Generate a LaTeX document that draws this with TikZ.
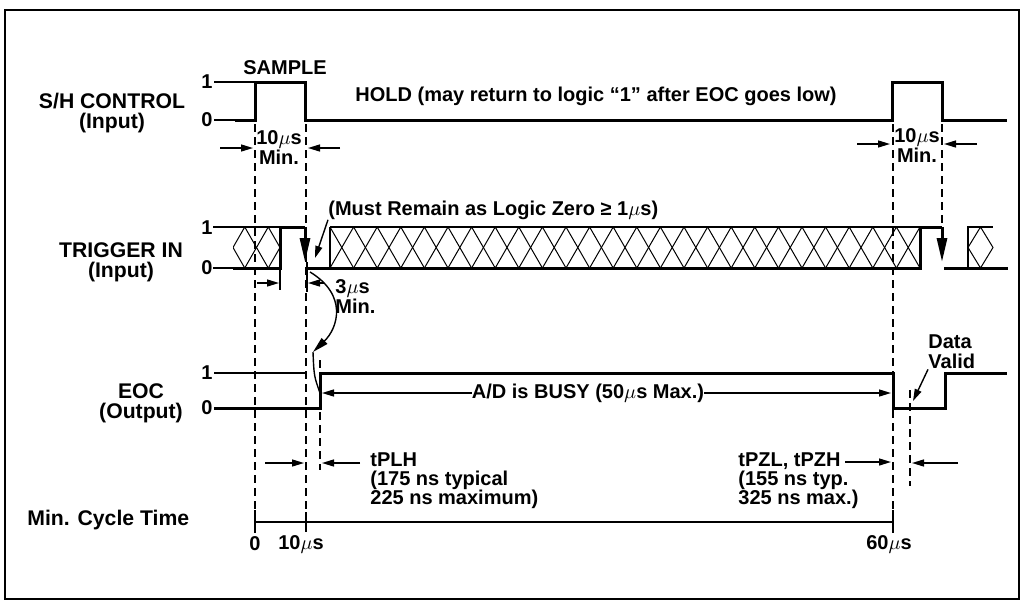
\documentclass[tikz,border=0pt]{standalone}
\usepackage{fontspec}
\setmainfont{Liberation Sans}
\usetikzlibrary{arrows.meta}

\tikzset{
  sig/.style={line width=1.5pt},
  lvl/.style={line width=0.7pt},
  hatch/.style={line width=0.5pt},
  guide/.style={line width=0.6pt, dash pattern=on 4pt off 2.5pt},
  dim/.style={line width=0.7pt, -{Triangle[length=6pt,width=3.5pt]}},
  drop/.style={sig, -{Triangle[length=12pt,width=5pt]}},
  lbl/.style={font=\fontsize{10}{10}\selectfont\bfseries, inner sep=0pt},
  note/.style={font=\fontsize{10}{9.5}\selectfont\bfseries, inner sep=0pt, align=left, anchor=west},
  signame/.style={font=\fontsize{10.6}{10}\selectfont\bfseries, inner sep=0pt, align=center},
}

\begin{document}
\begin{tikzpicture}[x=0.5pt, y=-0.5pt]
        \useasboundingbox (0,0) rectangle (1027,611);
        % Frame
            \draw[line width=0.8pt] (5,10) rectangle (1019,599);
        % Timing guides
            \draw[guide] (255,124) -- (255,512);
            \draw[guide] (306,124) -- (306,512);
            \draw[guide] (893,124) -- (893,512);
            \draw[guide] (942,124) -- (942,227);
            \draw[guide] (320,360) -- (320,470);
            \draw[guide] (910,390) -- (910,486);
        % S/H control
            \node[signame] (sh) at (112,113) {S/H CONTROL\\(Input)};
            \node[lbl] (sh1) at (207,82) {1};
            \node[lbl] (sh0) at (207,120) {0};
            \draw[lvl] (214,82) -- (255,82);
            \draw[lvl] (214,120) -- (235,120);
            \draw[sig] (235,120) -- (255,120) -- (255,82) -- (305,82) -- (305,120)
                -- (892,120) -- (892,82) -- (942,82) -- (942,120) -- (1007,120);
            \node[lbl] (sample) at (285,68) {SAMPLE};
            \node[lbl, anchor=west] (hold) at (355,96) {HOLD (may return to logic “1” after EOC goes low)};
            \node[lbl, align=center] (wa) at (279,148) {10$\mu$s\\Min.};
            \draw[dim] (220,148) -- (253,148);
            \draw[dim] (340,148) -- (308,148);
            \node[lbl, align=center] (wb) at (917,146) {10$\mu$s\\Min.};
            \draw[dim] (857,144) -- (890,144);
            \draw[dim] (977,144) -- (944,144);
        % Trigger in
            \node[signame] (trig) at (121,262) {TRIGGER IN\\(Input)};
            \node[lbl] (tr1) at (207,228) {1};
            \node[lbl] (tr0) at (207,268) {0};
            \draw[lvl] (213,227) -- (233,227);
            \draw[lvl] (213,268) -- (233,268);
            \begin{scope}
                \clip (233,227) rectangle (280,268);
                \foreach \x in {221.25,244.75,268.25,291.75}
                    \draw[hatch] (\x,227) -- ++(23.5,41) (\x,227) -- ++(-23.5,41);
            \end{scope}
            \begin{scope}
                \clip (330,227) rectangle (920,268);
                \foreach \k in {0,...,25}
                    \draw[hatch] ({330+23.6*\k},227) -- ++(23.6,41) ({330+23.6*\k},227) -- ++(-23.6,41);
            \end{scope}
            \draw[hatch] (980.5,227) -- (993,247.5) -- (980.5,268) -- (968,247.5) -- cycle;
            \draw[lvl] (233,227) -- (280,227);
            \draw[sig] (233,268) -- (280,268) -- (280,227) -- (305,227);
            \draw[drop] (305,227) -- (305,262);
            \draw[lvl] (330,268) -- (330,227);
            \draw[line width=1pt] (330,227) -- (920,227);
            \draw[sig] (307,268) -- (920,268) -- (920,227) -- (942,227);
            \draw[drop] (942,227) -- (942,262);
            \draw[sig] (944,268) -- (1008,268);
            \draw[lvl] (968,268) -- (968,227) -- (993,227);
            \node[lbl, anchor=west] (must) at (328,210) {(Must Remain as Logic Zero ≥ 1$\mu$s)};
            \draw[dim] (must.south west) -- (315,258);
            \draw[lvl] (280,268) -- (280,290);
            \draw[dim] (257,283) -- (279,283);
            \draw[lvl] (307,262) -- (307,292);
            \draw[dim] (324,283) -- (308,283);
            \node[lbl, align=left, anchor=west] (three) at (335,297) {3$\mu$s\\Min.};
            \draw[lvl, -{Triangle[length=8pt,width=4pt]}] (310,272) .. controls (348,295) and (338,328) .. (313,352);
            \draw[lvl] (313,352) .. controls (314,376) .. (320,393);
        % EOC
            \node[signame] (eoc) at (141,403) {EOC\\(Output)};
            \node[lbl] (eoc1) at (207,373) {1};
            \node[lbl] (eoc0) at (207,408) {0};
            \draw[lvl] (214,373) -- (307,373);
            \draw[sig] (214,408) -- (320,408) -- (320,373) -- (893,373) -- (893,408)
                -- (945,408) -- (945,373) -- (1007,373);
            \node[lbl] (busy) at (588,393) {A/D is BUSY (50$\mu$s Max.)};
            \draw[dim] (busy.west) -- (322,393);
            \draw[dim] (busy.east) -- (891,393);
            \node[lbl, align=left, anchor=west] (valid) at (928,352) {Data\\Valid};
            \draw[dim] (valid.south west) -- (913,401);
        % Propagation delays
            \draw[dim] (265,463) -- (304,463);
            \draw[dim] (360,463) -- (322,463);
            \node[note] (plh) at (370,481) {tPLH\\(175 ns typical\\225 ns maximum)};
            \node[note] (pz) at (738,481) {tPZL, tPZH\\(155 ns typ.\\325 ns max.)};
            \coordinate (pzend) at (845,462);
            \draw[dim] (pzend) -- (891,462);
            \draw[dim] (958,463) -- (912,463);
        % Cycle time
            \node[signame, anchor=west] (cyc) at (27,520) {Min. Cycle Time};
            \draw[line width=1pt] (255,522) -- (893,522);
            \draw[lvl] (255,510) -- (255,533);
            \draw[lvl] (306,512) -- (306,532);
            \draw[lvl] (893,510) -- (893,533);
            \node[lbl] (t0) at (255,544) {0};
            \node[lbl] (t10) at (301,544) {10$\mu$s};
            \node[lbl] (t60) at (889,544) {60$\mu$s};
\end{tikzpicture}
\end{document}
